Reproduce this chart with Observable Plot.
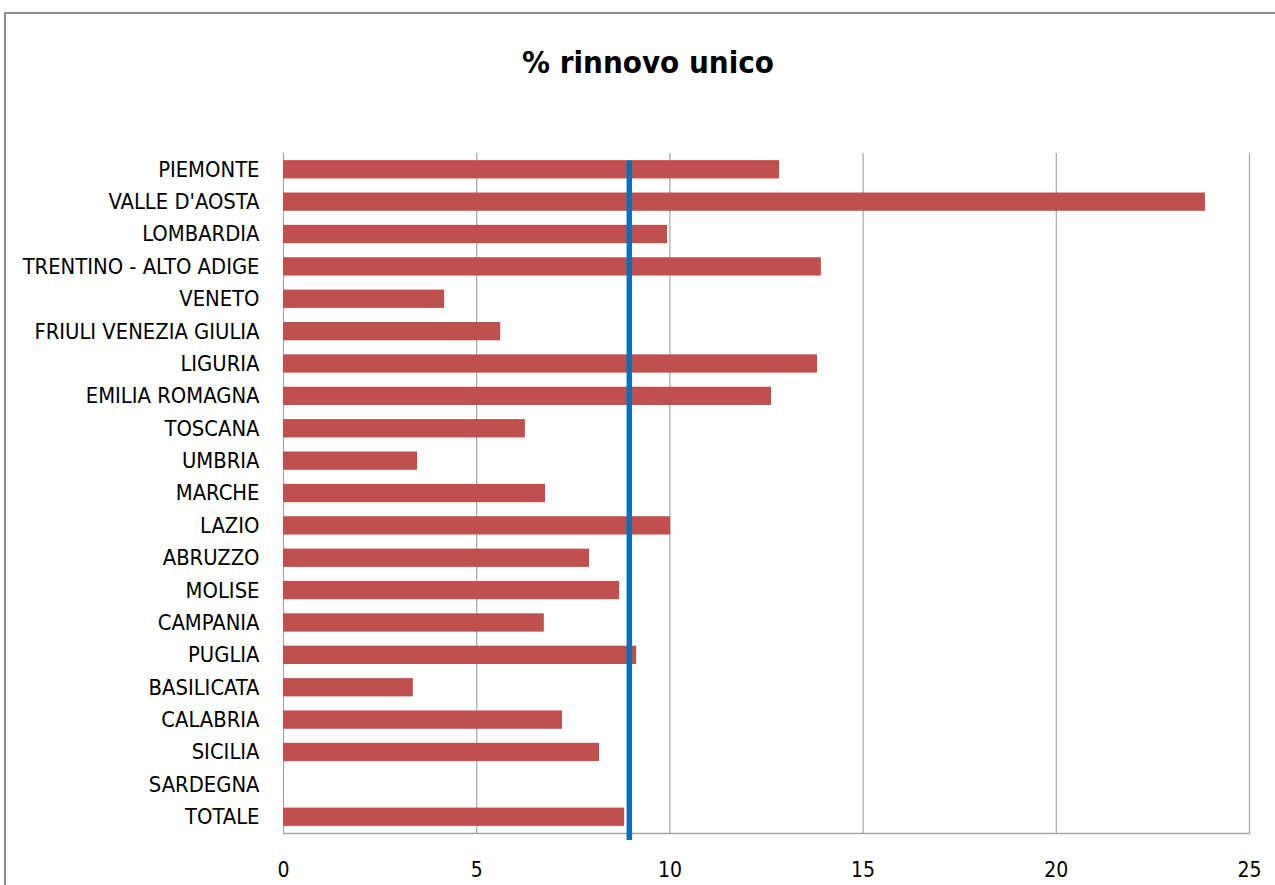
<!DOCTYPE html>
<html>
<head>
<meta charset="utf-8">
<script src="https://cdn.jsdelivr.net/npm/d3@7"></script>
<script src="https://cdn.jsdelivr.net/npm/@observablehq/plot@0.6"></script>
<style>
  html, body { margin: 0; padding: 0; background: #fff; }
  #wrap { position: relative; width: 1275px; height: 885px; overflow: hidden; background: #fff;
    font-family: "Liberation Sans Narrow", "DejaVu Sans Condensed", "Roboto", sans-serif; }
  #frame { position: absolute; left: 4px; top: 12px; width: 1400px; height: 1000px; border: 2px solid #8c8c8c; box-sizing: border-box; }
  #title { position: absolute; left: 0; top: 44px; width: 1296px; text-align: center; font-weight: bold; font-size: 31px; color: #000; }
  #chart { position: absolute; left: 0; top: 100px; }
</style>
</head>
<body>
<div id="wrap">
  <div id="frame"></div>
  <div id="title">% rinnovo unico</div>
  <div id="chart"></div>
</div>
<script>
const regions = ["PIEMONTE", "VALLE D'AOSTA", "LOMBARDIA", "TRENTINO - ALTO ADIGE", "VENETO", "FRIULI VENEZIA GIULIA", "LIGURIA", "EMILIA ROMAGNA", "TOSCANA", "UMBRIA", "MARCHE", "LAZIO", "ABRUZZO", "MOLISE", "CAMPANIA", "PUGLIA", "BASILICATA", "CALABRIA", "SICILIA", "SARDEGNA", "TOTALE"];
const values = [12.84, 23.86, 9.94, 13.92, 4.17, 5.62, 13.82, 12.63, 6.26, 3.47, 6.78, 10.02, 7.92, 8.70, 6.75, 9.14, 3.36, 7.22, 8.18, 0, 8.83];
const referenceValue = [8.95];
const xTicks = [0, 5, 10, 15, 20, 25];

const data = regions.map((r, i) => ({ region: r, value: values[i] }));

const plot = Plot.plot({
  width: 1275,
  height: 785,
  marginLeft: 283,
  marginRight: 26,
  marginTop: 53,
  marginBottom: 52,
  style: { fontFamily: '"Liberation Sans Narrow", "DejaVu Sans Condensed", sans-serif', fontSize: "21px", color: "#000", background: "transparent" },
  x: { domain: [0, 25], ticks: xTicks, tickSize: 0, label: null },
  y: { domain: regions, paddingInner: 0.435, paddingOuter: 0.22, round: false, tickSize: 0, label: null },
  marks: [
    Plot.ruleX(xTicks, { stroke: "#a6a6a6", strokeWidth: 1.2, strokeOpacity: 1 }),
    Plot.frame({ anchor: "bottom", stroke: "#a6a6a6", strokeWidth: 1.5 }),
    Plot.barX(data, { x: "value", y: "region", fill: "#C0504D" }),
    Plot.ruleX(referenceValue, { stroke: "#0070C0", strokeWidth: 5.5, insetTop: 7.5, insetBottom: -7 }),
    Plot.axisX({ ticks: xTicks, tickSize: 0, tickPadding: 29, fontSize: 21, label: null }),
    Plot.axisY({ tickSize: 0, tickPadding: 24, fontSize: 21.8, label: null })
  ]
});
document.getElementById("chart").appendChild(plot);
</script>
</body>
</html>
